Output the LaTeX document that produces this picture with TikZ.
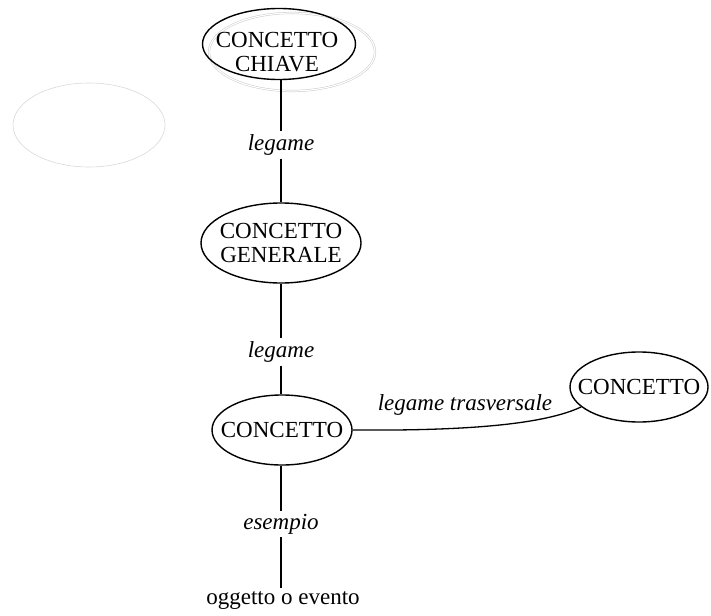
\documentclass[tikz,border=0pt]{standalone}
\usepackage{fontspec}
\setmainfont{Liberation Serif}
\usetikzlibrary{shapes.geometric}
\begin{document}
\begin{tikzpicture}[x=1pt,y=-1pt,
  concept/.style={draw, ellipse, line width=1.4pt, inner sep=0pt},
  txt/.style={inner sep=0pt, align=center, font=\fontsize{23}{24.5}\selectfont},
  link/.style={font=\fontsize{23}{25}\selectfont\itshape, inner sep=3pt},
  conn/.style={line width=1.3pt}]
\useasboundingbox (0,0) rectangle (711,615);
% faint ellipses
\node[draw=gray!45, ellipse, double, double distance=1.2pt, line width=0.45pt, minimum width=166, minimum height=78, inner sep=0pt] (ks) at (292,52) {};
\node[draw=gray!30, ellipse, line width=0.6pt, minimum width=152, minimum height=84, inner sep=0pt] (left) at (89,125) {};
% concepts
\node[concept, minimum width=153, minimum height=71] (k) at (279,44) {};
\node[txt] (kt) at (277,52) {CONCETTO\\CHIAVE};
\node[concept, minimum width=160, minimum height=80, label={[txt]center:CONCETTO\\GENERALE}] (g) at (281,243) {};
\node[concept, minimum width=140, minimum height=70, label={[txt]center:CONCETTO}] (c) at (282,430) {};
\node[concept, minimum width=138, minimum height=70, label={[txt]center:CONCETTO}] (r) at (639,387) {};
% link labels
\node[link] (l1) at (281,145) {legame};
\node[link] (l2) at (281,352) {legame};
\node[link] (l3) at (281,524) {esempio};
\node[link, inner sep=0pt] (lt) at (465,405) {legame trasversale};
\node[txt, inner sep=3pt] (o) at (283,600) {oggetto o evento};
% connectors
\draw[conn] (l1 |- k.south) -- (l1);
\draw[conn] (l1) -- (l1 |- g.north);
\draw[conn] (l2 |- g.south) -- (l2);
\draw[conn] (l2) -- (l2 |- c.north);
\draw[conn] (l3 |- c.south) -- (l3);
\draw[conn] (l3) -- (l3 |- o.north);
\draw[conn] (c.east) .. controls (470,431) and (545,424) .. (r.199);
\end{tikzpicture}
\end{document}
